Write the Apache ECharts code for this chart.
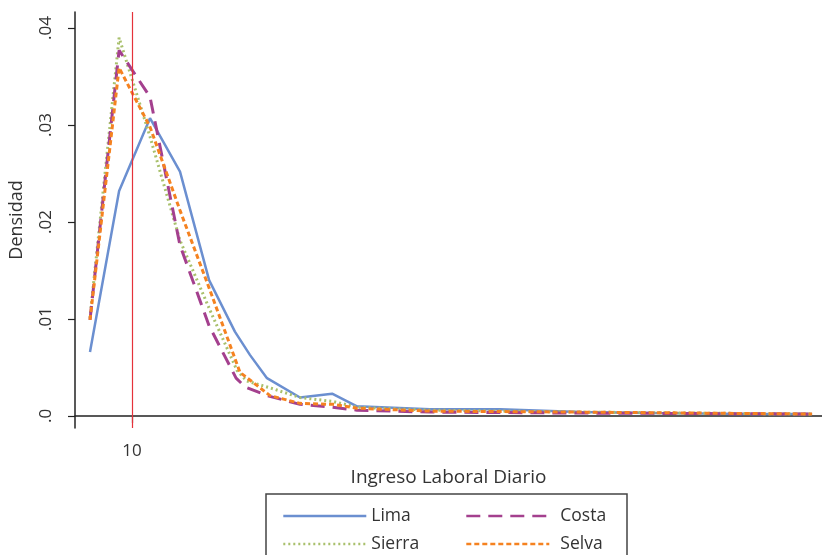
<!DOCTYPE html>
<html>
<head>
<meta charset="utf-8">
<script src="https://cdn.jsdelivr.net/npm/echarts@6/dist/echarts.min.js"></script>
<style>html,body{margin:0;padding:0;background:#fff}#c{width:822px;height:555px}</style>
</head>
<body>
<div id="c"></div>
<script>
// Ingreso laboral diario (x) and densidad (y) per region
const limaX   = [8.6, 9.57, 10.6, 11.6, 12.57, 13.43, 13.93, 14.5, 15.6, 16.67, 17.5, 19.93, 22.27, 24.93, 27.27, 30.6, 32.67];
const limaY   = [0.0066, 0.0232, 0.0307, 0.0252, 0.0140, 0.0087, 0.0063, 0.0039, 0.0019, 0.0023, 0.0010, 0.0007, 0.0007, 0.0004, 0.0003, 0.0002, 0.0002];
const costaX  = [8.6, 9.57, 10.6, 11.6, 12.57, 13.47, 13.77, 14.5, 15.6, 16.67, 17.5, 19.93, 24.93, 32.67];
const costaY  = [0.0099, 0.0377, 0.0329, 0.0176, 0.0093, 0.0039, 0.0030, 0.0021, 0.0012, 0.0009, 0.0006, 0.0004, 0.0003, 0.0002];
const sierraX = [8.6, 9.57, 10.6, 11.6, 12.6, 13.5, 13.83, 14.6, 15.6, 16.7, 17.5, 19.93, 24.93, 32.67];
const sierraY = [0.0101, 0.0390, 0.0288, 0.0181, 0.0109, 0.0047, 0.0036, 0.0029, 0.0019, 0.0015, 0.0009, 0.0006, 0.0004, 0.0002];
const selvaX  = [8.6, 9.57, 10.6, 11.6, 12.57, 13.6, 14.6, 15.6, 16.7, 17.5, 19.93, 24.93, 32.67];
const selvaY  = [0.0099, 0.0359, 0.0298, 0.0212, 0.0132, 0.0045, 0.0021, 0.0013, 0.0012, 0.0008, 0.0005, 0.0004, 0.0002];
const xTicks = [10];
const yTicks = [0, 0.01, 0.02, 0.03, 0.04];
const yTickLabels = ['.0', '.01', '.02', '.03', '.04'];
const refLine = 10;

const zip = (xs, ys) => xs.map((x, i) => [x, ys[i]]);
const FONT = 'Open Sans';
const TXT = '#333';

const legendCommon = {
  orient: 'vertical', padding: 0, itemWidth: 83, itemHeight: 14, itemGap: 10, height: 80,
  itemStyle: {color: 'rgba(0,0,0,0)', borderColor: 'rgba(0,0,0,0)', borderWidth: 0},
  lineStyle: {width: 2.6}
};

const chart = echarts.init(document.getElementById('c'));
chart.setOption({
  animation: false,
  textStyle: {fontFamily: FONT},
  grid: {left: 75, right: 0, top: 12, bottom: 127},
  xAxis: {
    type: 'value', min: 8.1, max: 33.0,
    name: 'Ingreso Laboral Diario', nameLocation: 'middle', nameGap: 40,
    nameTextStyle: {fontSize: 19, color: TXT, fontFamily: FONT},
    axisLine: {show: true, lineStyle: {color: '#222', width: 1.5}},
    axisTick: {show: true, customValues: xTicks, length: 7, lineStyle: {color: '#222', width: 1.2}},
    axisLabel: {show: true, customValues: xTicks, fontSize: 17, color: TXT, margin: 15, fontFamily: FONT},
    splitLine: {show: false}
  },
  yAxis: {
    type: 'value', min: -0.00124, max: 0.04165,
    name: 'Densidad', nameLocation: 'middle', nameGap: 49,
    nameTextStyle: {fontSize: 18, color: TXT, fontFamily: FONT},
    axisLine: {show: true, lineStyle: {color: '#222', width: 1.5}},
    axisTick: {show: true, customValues: yTicks, length: 7, lineStyle: {color: '#222', width: 1.2}},
    axisLabel: {show: true, customValues: yTicks, rotate: 90, fontSize: 17, color: TXT, margin: 20, fontFamily: FONT,
      formatter: v => { const i = yTicks.findIndex(t => Math.abs(t - v) < 1e-9); return i >= 0 ? yTickLabels[i] : ''; }},
    splitLine: {show: false}
  },
  legend: [
    Object.assign({left: 282, top: 507, data: ['Lima', 'Sierra'],
      textStyle: {fontSize: 17.5, color: TXT, fontFamily: FONT}}, legendCommon),
    Object.assign({left: 465, top: 507, data: ['Costa', 'Selva'],
      textStyle: {fontSize: 17.5, color: TXT, fontFamily: FONT, padding: [0, 0, 0, 6]}}, legendCommon)
  ],
  graphic: [{type: 'rect', shape: {x: 266, y: 494, width: 361, height: 80},
    style: {fill: 'none', stroke: '#444', lineWidth: 1.5}, silent: true}],
  series: [
    {name: 'Lima', type: 'line', data: zip(limaX, limaY), symbol: 'none',
     lineStyle: {color: '#6b8fd0', width: 2.5, type: 'solid'}, itemStyle: {color: '#6b8fd0'},
     markLine: {silent: true, symbol: 'none', label: {show: false},
       lineStyle: {color: '#e5323b', width: 1.2, type: 'solid'}, data: [{xAxis: refLine}]}},
    {name: 'Sierra', type: 'line', data: zip(sierraX, sierraY), symbol: 'none',
     lineStyle: {color: '#a9c06c', width: 3, type: [2, 3]}, itemStyle: {color: '#a9c06c'}},
    {name: 'Costa', type: 'line', data: zip(costaX, costaY), symbol: 'none',
     lineStyle: {color: '#a4408e', width: 3, type: [14, 8]}, itemStyle: {color: '#a4408e'}},
    {name: 'Selva', type: 'line', data: zip(selvaX, selvaY), symbol: 'none',
     lineStyle: {color: '#f58220', width: 3, type: [5, 3]}, itemStyle: {color: '#f58220'}}
  ]
});
</script>
</body>
</html>
